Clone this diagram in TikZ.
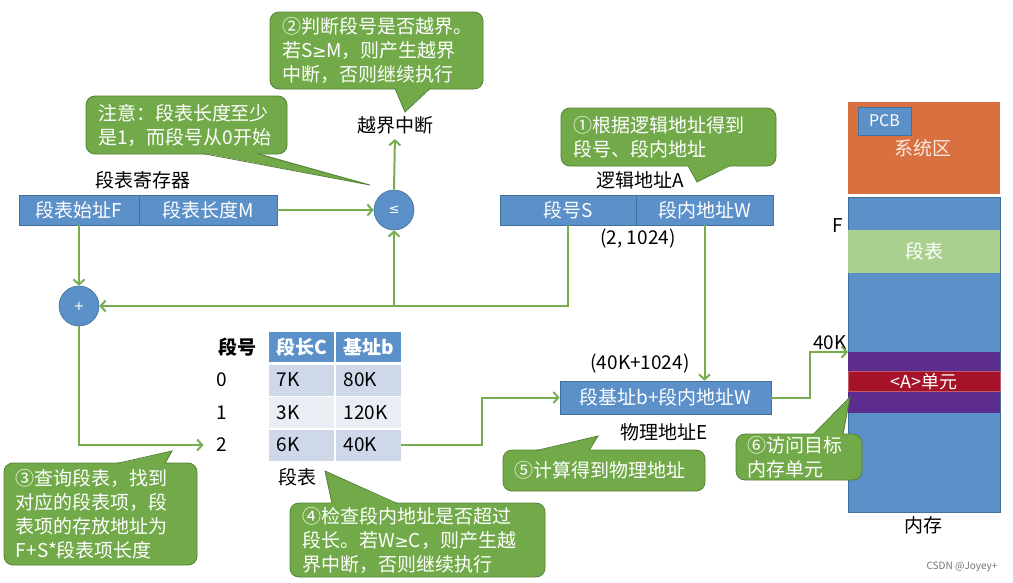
\documentclass[tikz,border=0pt]{standalone}
\usepackage{fontspec}
\setmainfont{Noto Sans CJK SC}
\newfontfamily\symfont{DejaVu Sans}
\usepackage{tikz}
\usetikzlibrary{arrows.meta, calc}

\definecolor{pptBlue}{RGB}{91, 144, 200}
\definecolor{pptBlueLine}{RGB}{65, 113, 156}
\definecolor{pptGreen}{RGB}{114, 170, 74}
\definecolor{pptGreenLine}{RGB}{84, 130, 53}
\definecolor{pptArrow}{RGB}{119, 173, 80}
\definecolor{memOrange}{RGB}{216, 112, 64}
\definecolor{memGreen}{RGB}{169, 208, 142}
\definecolor{memPurple}{RGB}{92, 45, 143}
\definecolor{memRed}{RGB}{166, 19, 40}
\definecolor{rowDark}{RGB}{207, 216, 233}
\definecolor{rowLight}{RGB}{233, 237, 244}

\newcommand{\fs}{\fontsize{19}{24}\selectfont}
\newcommand{\geqsym}{{\symfont\fontsize{17}{24}\selectfont ≥}}

\begin{document}
\begin{tikzpicture}[
    x=1pt, y=-1pt,
    txt/.style={font=\fs, inner sep=1pt},
    bluebox/.style={rectangle, draw=pptBlueLine, fill=pptBlue, line width=0.6pt,
                    text=white, font=\fs, inner sep=0pt},
    tipbox/.style={rectangle, rounded corners=9pt, draw=pptGreenLine, fill=pptGreen,
                   line width=0.8pt, text=white, font=\fs, align=left, inner sep=0pt},
    tiptail/.style={fill=pptGreen},
    tipedge/.style={draw=pptGreenLine, line width=0.8pt},
    opcircle/.style={circle, draw=pptBlueLine, fill=pptBlue, minimum size=40pt,
                     inner sep=0pt, text=white, line width=0.6pt},
    arrow/.style={draw=pptArrow, line width=2pt, -{Straight Barb[length=5pt,width=11pt]}},
    cell/.style={rectangle, minimum width=65pt, inner sep=0pt, text width=50pt,
                 align=left, font=\fs},
    membox/.style={rectangle, anchor=north west, minimum width=152pt, inner sep=0pt,
                   text=white, font=\fs},
  ]
    \useasboundingbox (0,0) rectangle (1013,582);
    \fill[white] (0,0) rectangle (1013,582);

    % segment table register
    \node[txt] (regLabel) at (143,180) {段表寄存器};
    \node[bluebox, minimum width=120pt, minimum height=30pt] (regF) at (79,210) {段表始址F};
    \node[bluebox, minimum width=138pt, minimum height=30pt] (regM) at (208,210) {段表长度M};

    % compare and add
    \node[opcircle, font=\symfont\fontsize{13}{15}\selectfont] (le) at (394,210) {≤};
    \node[opcircle, font=\symfont\fontsize{13}{15}\selectfont] (plus) at (79,306) {+};
    \node[txt] (ovf) at (395,125) {越界中断};

    % logical address
    \node[txt] (logLabel) at (640,180) {逻辑地址A};
    \node[bluebox, minimum width=136pt, minimum height=30pt] (lgS) at (568,210) {段号S};
    \node[bluebox, minimum width=137pt, minimum height=30pt] (lgW) at (704.5,210) {段内地址W};
    \node[txt] (logVal) at (638,239) {(2,\ 1024)};

    % segment table
    \node[txt, font=\fs\bfseries] (idxHead) at (237,347) {段号};
    \node[cell, fill=pptBlue, text=white, minimum height=30pt, font=\fs\bfseries] (lenHead) at (301.5,347) {段长C};
    \node[cell, fill=pptBlue, text=white, minimum height=30pt, font=\fs\bfseries] (basHead) at (368.5,347) {基址b};
    \foreach \ry/\len/\bas/\shade [count=\i from 0] in
        {380/7K/80K/rowDark, 412.5/3K/120K/rowLight, 445/6K/40K/rowDark} {
      \node[txt] (idx\i) at (222,\ry) {\i};
      \node[cell, fill=\shade, minimum height=31pt] (len\i) at (301.5,\ry) {\len};
      \node[cell, fill=\shade, minimum height=31pt] (bas\i) at (368.5,\ry) {\bas};
    }
    \node[txt] (tabLabel) at (297,477) {段表};

    % physical address
    \node[txt] (phyVal) at (640,364) {(40K+1024)};
    \node[bluebox, minimum width=211pt, minimum height=33pt] (phys) at (665.5,397.5) {段基址b+段内地址W};
    \node[txt] (phyLabel) at (664,432) {物理地址E};

    % main memory
    \node[membox, fill=memOrange, minimum height=92pt] (sysArea) at (848,102) {};
    \node[txt, text=white!85!memOrange] (sysLabel) at (923,148) {系统区};
    \node[bluebox, minimum width=53pt, minimum height=28pt,
          font=\fontsize{16}{18}\selectfont] (pcb) at (884.5,121) {PCB};
    \node[membox, fill=pptBlue, draw=pptBlueLine, line width=0.5pt,
          minimum height=315pt] (userArea) at (848,197) {};
    \node[membox, fill=memGreen, minimum height=43pt] (segTab) at (848,230) {段表};
    \node[membox, fill=memPurple, minimum height=61pt] (unitBlk) at (848,352) {};
    \node[membox, fill=memRed, draw=memRed!70!white, line width=0.5pt, minimum height=20pt,
          font=\fontsize{18}{20}\selectfont] (unitA) at (848,371) {<A>单元};
    \node[txt, anchor=east] (fMark) at (844,226) {F};
    \node[txt, anchor=east] (k40) at (848,343) {40K};
    \node[txt] (memLabel) at (923,525) {内存};
    \node[font=\fontsize{10}{12}\selectfont, text=black!55] (mark) at (962,567) {CSDN @Joyey+};

    % connectors
    \draw[arrow] (regM.east) -- (le.west);
    \draw[arrow, shorten >=4pt] (le.north) -- (ovf.south);
    \draw[arrow] (lgS.south) |- (plus.east);
    \draw[arrow] (le.south |- plus.east) -- (le.south);
    \draw[arrow] (regF.south) -- (plus.north);
    \draw[arrow, shorten >=12pt] (plus.south) |- (idx2.west);
    \draw[arrow] (bas2.east) -- ++(81,0) |- (phys.west);
    \draw[arrow] (lgW.south) -- (lgW.south |- phys.north);
    \draw[arrow] (phys.east) -- ++(39,0) |- (unitBlk.north west);

    % callouts
    \node[tipbox, minimum width=213pt, minimum height=77pt, text width=189pt] (tip2) at (376.5,50.5)
      {②判断段号是否越界。\\若S\geqsym M，则产生越界\\中断，否则继续执行};
    \fill[tiptail] (395,88) -- (405,112) -- (430,88) -- cycle;
    \draw[tipedge] (395,88.6) -- (405,112) -- (430,88.6);

    \node[tipbox, minimum width=201pt, minimum height=58pt, text width=177pt] (tip0) at (186.5,125)
      {注意：段表长度至少\\是1，而段号从0开始};
    \fill[tiptail] (203,153) -- (370,185) -- (257,153) -- cycle;
    \draw[tipedge] (203,153.6) -- (370,185) -- (257,153.6);

    \node[tipbox, minimum width=215pt, minimum height=58pt, text width=191pt] (tip1) at (668.5,137)
      {①根据逻辑地址得到\\段号、段内地址};
    \fill[tiptail] (688,165) -- (697,182) -- (730,165) -- cycle;
    \draw[tipedge] (688,165.6) -- (697,182) -- (730,165.6);

    \node[tipbox, minimum width=193pt, minimum height=102pt, text width=169pt] (tip3) at (100.5,514)
      {③查询段表，找到\\对应的段表项，段\\表项的存放地址为\\F+S*段表项长度};
    \fill[tiptail] (117,464) -- (172,451) -- (165,464) -- cycle;
    \draw[tipedge] (117,463.4) -- (172,451) -- (165,463.4);

    \node[tipbox, minimum width=255pt, minimum height=74pt, text width=231pt] (tip4) at (417.5,540)
      {④检查段内地址是否超过\\段长。若W\geqsym C，则产生越\\界中断，否则继续执行};
    \fill[tiptail] (332,504) -- (325,471) -- (397,504) -- cycle;
    \draw[tipedge] (332,503.4) -- (325,471) -- (397,503.4);

    \node[tipbox, minimum width=202pt, minimum height=41pt, text width=180pt] (tip5) at (604,470.5)
      {⑤计算得到物理地址};
    \fill[tiptail] (536,451) -- (598,436) -- (589,451) -- cycle;
    \draw[tipedge] (536,450.6) -- (598,436) -- (589,450.6);

    \node[tipbox, minimum width=126pt, minimum height=46pt, text width=104pt] (tip6) at (799,457)
      {⑥访问目标\\内存单元};
    \fill[tiptail] (813,435) -- (850,397) -- (843,435) -- cycle;
    \draw[tipedge] (813,434.6) -- (850,397) -- (843,434.6);
\end{tikzpicture}
\end{document}
